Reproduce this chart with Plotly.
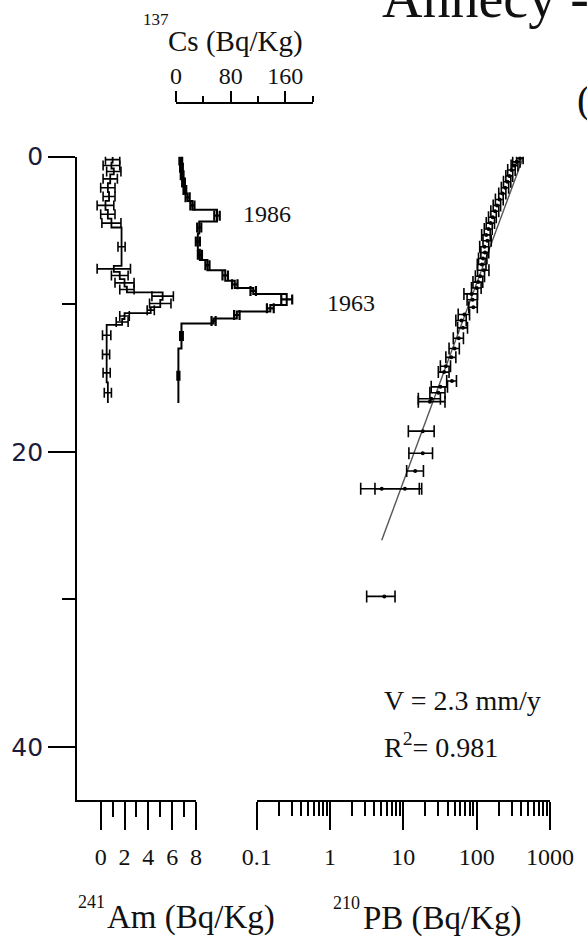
import plotly.graph_objects as go

W, H = 587, 944

# ---------------- data ----------------
# 241Am: sample depth boundaries (cm), activity (Bq/kg), 1-sigma error
am_edges = [0.0, 0.4, 0.8, 1.2, 1.8, 2.4, 3.0, 3.6, 4.2, 4.8, 7.4, 7.8, 8.3, 8.8,
            9.2, 9.7, 10.2, 10.6, 11.0, 11.4, 12.8, 14.0, 15.3, 16.7]
am_val = [1.0, 0.9, 1.1, 0.8, 0.6, 0.7, 0.4, 0.6, 0.9, 1.75, 1.1, 1.6, 2.0, 2.2,
          5.2, 5.0, 4.2, 2.0, 1.8, 0.5, 0.45, 0.5, 0.6]
am_err = [0.6, 0.7, 0.6, 0.6, 0.6, 0.5, 0.7, 0.6, 0.8, 0.3, 1.4, 0.7, 0.8, 0.6,
          0.9, 0.9, 0.3, 0.4, 0.5, 0.35, 0.3, 0.3, 0.3]

# 137Cs
cs_edges = [0.0, 0.5, 1.0, 1.5, 2.0, 2.5, 3.0, 3.6, 4.4, 5.2, 6.3, 7.0, 7.7, 8.4,
            8.9, 9.3, 10.05, 10.5, 10.96, 11.3, 13.0, 16.7]
cs_val = [7, 8, 9, 11, 13, 17, 24, 60, 34, 32, 35, 46, 72, 86, 113, 162, 138, 89,
          55, 8, 3.5]
cs_err = [2, 2, 2, 2, 2, 3, 3, 4, 3, 3, 3, 3, 4, 4, 4, 8, 5, 4, 3, 2, 1.5]

# 210Pb excess: depth, value, lower and upper end of error bar
pb_depth = [0.1, 0.35, 0.6, 0.9, 1.3, 1.7, 2.1, 2.5, 2.9, 3.3, 3.7, 4.1, 4.5, 4.9,
            5.3, 5.7, 6.1, 6.5, 6.9, 7.3, 7.7, 8.1, 8.5, 8.9, 9.3, 9.7, 10.2,
            10.7, 11.1, 11.6, 12.3, 13.0, 13.6, 14.2, 14.6, 15.2, 15.6, 16.0,
            16.4, 16.6, 18.6, 20.1, 21.3, 22.5, 22.5, 29.8]
pb_val = [390, 350, 330, 300, 280, 262, 245, 225, 205, 190, 178, 165, 155, 145,
          135, 140, 128, 130, 122, 118, 125, 112, 105, 100, 85, 88, 90,
          68, 62, 65, 57, 50, 45, 38, 36, 46, 32, 30,
          24, 23, 18.4, 18.4, 14.5, 5.07, 10.5, 5.5]
pb_lo = [350, 310, 295, 265, 250, 232, 217, 200, 180, 168, 156, 145, 135, 127,
         117, 122, 110, 114, 106, 102, 103, 96, 89, 85, 67, 74, 78,
         56, 52, 55, 48, 42, 38, 32, 30, 39, 24, 23,
         16, 16, 11.7, 11.9, 11.1, 2.62, 4.1, 3.16]
pb_hi = [430, 390, 365, 335, 310, 292, 273, 250, 230, 212, 200, 185, 175, 163,
         153, 158, 146, 146, 138, 134, 147, 128, 121, 115, 103, 102, 102,
         80, 72, 75, 66, 58, 52, 44, 42, 53, 40, 37,
         32, 37, 26.3, 25, 18.8, 16.5, 17.8, 7.7]

# regression line end points (depth, value)
fit_depth = [0, 26]
fit_val = [434, 5.07]

# ticks
depth_ticks = [0, 20, 40]
depth_minor = [10, 30]
am_ticks = [0, 2, 4, 6, 8]
am_minor = [1, 3, 5, 7]
cs_ticks = [0, 80, 160]
cs_minor = [40, 120, 200]
pb_ticks = [0.1, 1, 10, 100, 1000]
pb_ticktext = ["0.1", "1", "10", "100", "1000"]
pb_minor = [m * 10.0 ** k for k in range(-1, 3) for m in range(2, 10)]


# ---------------- helpers ----------------
def step(edges, vals):
    xs, ys = [], []
    for i, v in enumerate(vals):
        xs += [v, v]
        ys += [edges[i], edges[i + 1]]
    return xs, ys


def mids(edges):
    return [(edges[i] + edges[i + 1]) / 2 for i in range(len(edges) - 1)]


BLACK = "black"
SERIF = "Liberation Serif, Times New Roman, Times, serif"

fig = go.Figure()

# Am
ax, ay = step(am_edges, am_val)
fig.add_trace(go.Scatter(x=ax, y=ay, xaxis="x", yaxis="y", mode="lines",
                         line=dict(color=BLACK, width=1.8)))
fig.add_trace(go.Scatter(x=am_val, y=mids(am_edges), xaxis="x", yaxis="y",
                         mode="markers", marker=dict(size=1, color=BLACK),
                         error_x=dict(type="data", array=am_err, width=5,
                                      thickness=1.6, color=BLACK)))
# Cs
cx, cy = step(cs_edges, cs_val)
fig.add_trace(go.Scatter(x=cx, y=cy, xaxis="x2", yaxis="y", mode="lines",
                         line=dict(color=BLACK, width=2)))
fig.add_trace(go.Scatter(x=cs_val, y=mids(cs_edges), xaxis="x2", yaxis="y",
                         mode="markers", marker=dict(size=1, color=BLACK),
                         error_x=dict(type="data", array=cs_err, width=5,
                                      thickness=2.2, color=BLACK)))
# Pb
fig.add_trace(go.Scatter(x=fit_val, y=fit_depth, xaxis="x3", yaxis="y",
                         mode="lines", line=dict(color="#555555", width=1.4)))
fig.add_trace(go.Scatter(
    x=pb_val, y=pb_depth, xaxis="x3", yaxis="y", mode="markers",
    marker=dict(size=4, color=BLACK),
    error_x=dict(type="data", symmetric=False,
                 array=[h - v for h, v in zip(pb_hi, pb_val)],
                 arrayminus=[v - l for v, l in zip(pb_val, pb_lo)],
                 width=6, thickness=1.6, color=BLACK)))

axis_common = dict(showline=True, linecolor=BLACK, linewidth=1.8,
                   ticks="outside", tickcolor=BLACK, tickwidth=1.8,
                   showgrid=False, zeroline=False, automargin=False,
                   tickfont=dict(family=SERIF, size=24, color="#111111"))

fig.update_layout(
    template="none",
    width=W, height=H, margin=dict(l=0, r=0, t=0, b=0, pad=0, autoexpand=False),
    autosize=False,
    paper_bgcolor="white", plot_bgcolor="rgba(0,0,0,0)",
    showlegend=False,
    xaxis=dict(domain=[76.7 / W, 196 / W], range=[-2.015, 8], anchor="y",
               tickmode="array", tickvals=am_ticks, ticklen=28,
               ticklabelstandoff=6,
               minor=dict(tickmode="array", tickvals=am_minor, ticklen=15,
                          tickwidth=1.8, tickcolor=BLACK, ticks="outside"),
               **axis_common),
    xaxis2=dict(domain=[176 / W, 312.7 / W], range=[0, 200], anchor="free",
                position=1 - 103 / H, side="top",
                tickmode="array", tickvals=cs_ticks, ticklen=11,
                ticklabelstandoff=-2,
                minor=dict(tickmode="array", tickvals=cs_minor, ticklen=6,
                           tickwidth=1.8, tickcolor=BLACK, ticks="outside"),
                **axis_common),
    xaxis3=dict(domain=[256.7 / W, 550 / W], type="log", range=[-1, 3],
                anchor="y", tickmode="array", tickvals=pb_ticks,
                ticktext=pb_ticktext, ticklen=28, ticklabelstandoff=6,
                minor=dict(tickmode="array", tickvals=pb_minor, ticklen=14,
                           tickwidth=1.8, tickcolor=BLACK, ticks="outside"),
                **axis_common),
    yaxis=dict(domain=[1 - 800 / H, 1 - 156.7 / H], range=[43.6, 0],
               tickmode="array", tickvals=depth_ticks, ticklen=26.7,
               ticklabelstandoff=0, automargin=False,
               minor=dict(tickmode="array", tickvals=depth_minor, ticklen=13,
                          tickwidth=1.8, tickcolor=BLACK, ticks="outside"),
               showline=True, linecolor=BLACK, linewidth=1.8,
               ticks="outside", tickcolor=BLACK, tickwidth=1.8,
               showgrid=False, zeroline=False,
               tickfont=dict(family="DejaVu Sans", size=25, color="#1c1c3a")),
)


def label(text, px, py, size, anchor="left"):
    fig.add_annotation(text=text, x=px / W, y=1 - py / H, xref="paper",
                       yref="paper", xanchor=anchor, yanchor="middle",
                       showarrow=False,
                       font=dict(family=SERIF, size=size, color="#111111"))


label("Annecy -", 380, -2, 56)
label("(", 575, 100, 40)
label("137", 156, 19, 17, "center")
label("Cs (Bq/Kg)", 166, 42, 29)
label("1986", 241, 214, 24)
label("1963", 325, 303, 24)
label("V = 2.3 mm/y", 382, 700, 28)
label("R<sup>2</sup>= 0.981", 382, 745, 28)
label("241", 76, 902, 18)
label("Am (Bq/Kg)", 105, 917, 33)
label("210", 331, 903, 18)
label("PB (Bq/Kg)", 361, 918, 33)

fig.write_html("out.html")
